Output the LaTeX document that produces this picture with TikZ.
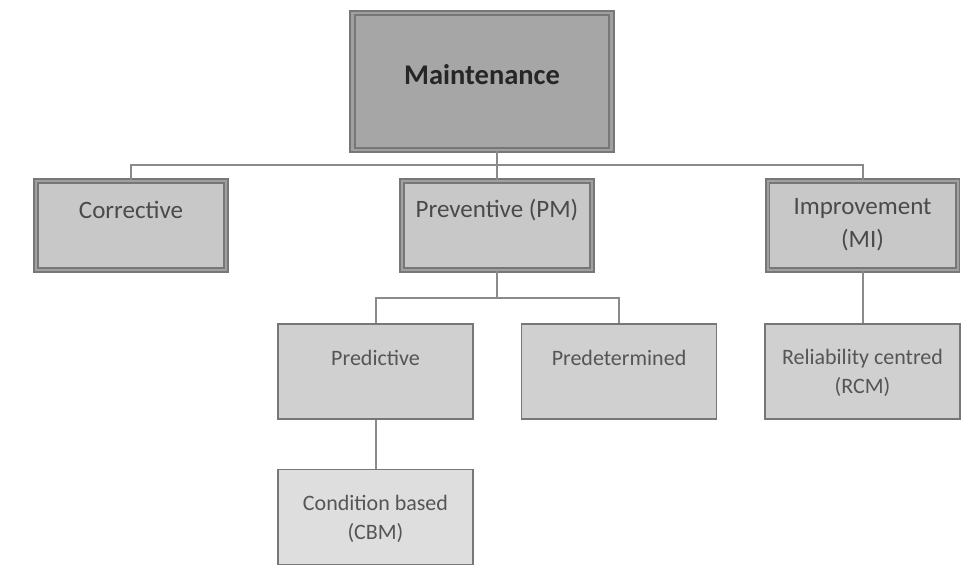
\documentclass[tikz,border=0pt]{standalone}
\usepackage{fontspec}
\setmainfont{Carlito}
\definecolor{lnk}{HTML}{8A8A8A}
\definecolor{bdark}{HTML}{777777}
\definecolor{bmid}{HTML}{A0A0A0}
\definecolor{topfill}{HTML}{A6A6A6}
\definecolor{twofill}{HTML}{C8C8C8}
\definecolor{threefill}{HTML}{D0D0D0}
\definecolor{cbmfill}{HTML}{DEDEDE}
\definecolor{txttwo}{HTML}{4A4A4A}
\definecolor{txtthree}{HTML}{555555}
\begin{document}
\begin{tikzpicture}[x=1pt,y=-1pt,
  topbox/.style={rectangle, draw=bdark, double=bmid, double distance=2.5pt, line width=1.9pt, fill=topfill, minimum width=259pt, minimum height=137pt, inner sep=0pt},
  twobox/.style={rectangle, draw=bdark, double=bmid, double distance=2pt, line width=1.7pt, fill=twofill, minimum width=190pt, minimum height=89pt, inner sep=0pt},
  threebox/.style={rectangle, draw=bdark, line width=1.4pt, fill=threefill, minimum width=195pt, minimum height=95pt, inner sep=0pt},
  toptxt/.style={font=\fontsize{28.5}{32}\selectfont\bfseries, text=black!85, inner sep=0pt},
  twotxt/.style={font=\fontsize{25}{33}\selectfont, text=txttwo, align=center, inner sep=0pt},
  threetxt/.style={font=\fontsize{22}{29}\selectfont, text=txtthree, align=center, inner sep=0pt},
  link/.style={draw=lnk, line width=2pt}]
\useasboundingbox (0,0) rectangle (966,566);

% boxes
\node[topbox] (mnt) at (482,81.5) {};
\node[twobox] (cor) at (131,225.5) {};
\node[twobox] (prev) at (497,225.5) {};
\node[twobox] (imp) at (862.5,225.5) {};
\node[threebox] (pred) at (375.5,371.5) {};
\node[threebox] (pdet) at (619,371.5) {};
\node[threebox] (rcm) at (862.5,371.5) {};
\node[threebox, fill=cbmfill] (cbm) at (375.5,517) {};

% texts
\node[toptxt] (mntT) at (482,75) {Maintenance};
\node[twotxt] (corT) at (131,210) {Corrective};
\node[twotxt] (prevT) at (497,210) {Preventive (PM)};
\node[twotxt] (impT) at (862.5,225) {Improvement\\(MI)};
\node[threetxt] (predT) at (375.5,358) {Predictive};
\node[threetxt] (pdetT) at (619,358) {Predetermined};
\node[threetxt] (rcmT) at (862.5,372.5) {Reliability centred\\(RCM)};
\node[threetxt] (cbmT) at (375.5,518.5) {Condition based\\(CBM)};

% connectors
\coordinate (b1) at (497,165);
\coordinate (b2) at (497,298);
\draw[link] (b1) -- (b1 |- mnt.south);
\draw[link] (cor.north) |- (b1) -| (imp.north);
\draw[link] (b1) -- (prev.north);
\draw[link] (prev.south) -- (b2);
\draw[link] (pred.north) |- (b2) -| (pdet.north);
\draw[link] (imp.south) -- (rcm.north);
\draw[link] (pred.south) -- (cbm.north);
\end{tikzpicture}
\end{document}
